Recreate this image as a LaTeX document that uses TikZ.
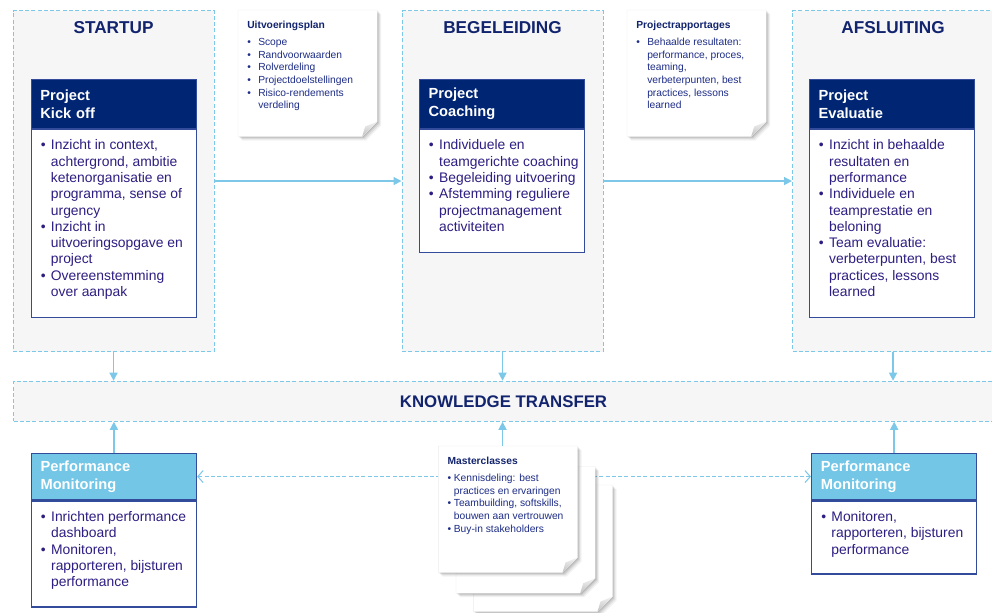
\documentclass[tikz,border=0pt]{standalone}
\usepackage{fontspec}
\setmainfont{Liberation Sans}
\usetikzlibrary{arrows.meta,calc,shadows}

\definecolor{navy}{RGB}{0,38,115}
\definecolor{titleblue}{RGB}{18,36,110}
\definecolor{bodytext}{RGB}{45,30,130}
\definecolor{boxline}{RGB}{50,75,155}
\definecolor{lineblue}{RGB}{125,200,232}
\definecolor{pmblue}{RGB}{115,198,230}
\definecolor{phasefill}{RGB}{246,246,246}
\definecolor{notetext}{RGB}{30,45,135}

\pgfdeclarelayer{background}
\pgfsetlayers{background,main}

\begin{document}
\begin{tikzpicture}[x = 0.75pt, y = -0.75pt,
  phase/.style = {draw = lineblue, fill = phasefill, line width = 0.8pt, dash pattern = on 3pt off 1.7pt,
    anchor = north west, inner sep = 0pt, minimum width = 150.75pt, minimum height = 255.75pt},
  phasetitle/.style = {text = titleblue, font = \fontsize{12.9}{15}\selectfont\bfseries},
  head/.style = {fill = navy, draw = boxline, line width = 0.8pt, text = white, anchor = north west,
    font = \fontsize{11}{13.5}\selectfont\bfseries, align = left, text width = 110pt,
    inner xsep = 7pt, inner ysep = 0pt, minimum height = 36.5pt},
  pmhead/.style = {head, fill = pmblue, minimum height = 35pt},
  body/.style = {draw = boxline, fill = white, line width = 0.8pt, anchor = north west,
    inner sep = 0pt, minimum width = 124pt},
  list/.style = {anchor = north west, text = bodytext, font = \fontsize{10.4}{12.2}\selectfont,
    inner xsep = 7.5pt, inner ysep = 7.2pt},
  note/.style = {anchor = north west, inner sep = 0pt, minimum width = 104pt, minimum height = 94.5pt},
  notelist/.style = {anchor = north west, text = notetext, font = \fontsize{7.7}{9.5}\selectfont,
    inner xsep = 6.8pt, inner ysep = 6.8pt},
  % soft shadow from a few stacked ones
  paper/.style = {fill = white, draw = black!8, line width = 0.3pt,
    drop shadow = {shadow xshift = 3pt, shadow yshift = -3pt, fill = black, opacity = 0.05},
    drop shadow = {shadow xshift = 2.2pt, shadow yshift = -2.2pt, fill = black, opacity = 0.07},
    drop shadow = {shadow xshift = 1.4pt, shadow yshift = -1.4pt, fill = black, opacity = 0.09},
    drop shadow = {shadow xshift = 0.7pt, shadow yshift = -0.7pt, fill = black, opacity = 0.1}},
  flow/.style = {draw = lineblue, line width = 1.1pt, -{Triangle[length = 6pt, width = 6pt]}},
  link/.style = {draw = lineblue, line width = 0.8pt, dash pattern = on 3pt off 1.7pt,
    {Straight Barb[length = 4pt, width = 9pt]}-{Straight Barb[length = 4pt, width = 9pt]}}]
\useasboundingbox (0, 0) rectangle (992, 612);

% three phases
\node [phase] (startup) at (12.5, 10) {};
\node [phase] (begel) at (401.5, 10) {};
\node [phase] (afsl) at (792, 10) {};
\node [phasetitle] (startupT) at ([yshift = -13.5pt]startup.north) {STARTUP};
\node [phasetitle] (begelT) at ([yshift = -13.5pt]begel.north) {BEGELEIDING};
\node [phasetitle] (afslT) at ([yshift = -13.5pt]afsl.north) {AFSLUITING};

% project boxes
\node [head] (kickH) at ($(startup.north west) + (18, 69)$) {Project\\Kick off};
\node [body, minimum height = 141.2pt] (kickB) at (kickH.south west) {};
\node [list] (kickL) at (kickB.north west) {\begin{tabular}{@{}l@{\hspace{4pt}}l@{}}
\textbullet & Inzicht in context,\\
 & achtergrond, ambitie\\
 & ketenorganisatie en\\
 & programma, sense of\\
 & urgency\\
\textbullet & Inzicht in\\
 & uitvoeringsopgave en\\
 & project\\
\textbullet & Overeenstemming\\
 & over aanpak
\end{tabular}};

\node [head] (coachH) at ($(begel.north west) + (17.2, 69)$) {Project\\Coaching};
\node [body, minimum height = 92.25pt] (coachB) at (coachH.south west) {};
\node [list] (coachL) at (coachB.north west) {\begin{tabular}{@{}l@{\hspace{4pt}}l@{}}
\textbullet & Individuele en\\
 & teamgerichte coaching\\
\textbullet & Begeleiding uitvoering\\
\textbullet & Afstemming reguliere\\
 & projectmanagement\\
 & activiteiten
\end{tabular}};

\node [head] (evalH) at ($(afsl.north west) + (16.7, 69)$) {Project\\Evaluatie};
\node [body, minimum height = 141.2pt] (evalB) at (evalH.south west) {};
\node [list] (evalL) at (evalB.north west) {\begin{tabular}{@{}l@{\hspace{4pt}}l@{}}
\textbullet & Inzicht in behaalde\\
 & resultaten en\\
 & performance\\
\textbullet & Individuele en\\
 & teamprestatie en\\
 & beloning\\
\textbullet & Team evaluatie:\\
 & verbeterpunten, best\\
 & practices, lessons\\
 & learned
\end{tabular}};

% notes
\node [note] (plan) at (238, 10) {};
\node [notelist] (planT) at (plan.north west) {\begin{tabular}{@{}l@{\hspace{5.5pt}}l@{}}
\multicolumn{2}{@{}l@{}}{\textcolor{titleblue}{\bfseries Uitvoeringsplan}}\\[3.4pt]
\textbullet & Scope\\
\textbullet & Randvoorwaarden\\
\textbullet & Rolverdeling\\
\textbullet & Projectdoelstellingen\\
\textbullet & Risico-rendements\\
 & verdeling
\end{tabular}};

\node [note] (rapp) at (627, 10) {};
\node [notelist] (rappT) at (rapp.north west) {\begin{tabular}{@{}l@{\hspace{5.5pt}}l@{}}
\multicolumn{2}{@{}l@{}}{\textcolor{titleblue}{\bfseries Projectrapportages}}\\[3.4pt]
\textbullet & Behaalde resultaten:\\
 & performance, proces,\\
 & teaming,\\
 & verbeterpunten, best\\
 & practices, lessons\\
 & learned
\end{tabular}};

\node [note] (mc3) at (473.3, 485) {};
\node [note] (mc2) at (456, 466.7) {};
\node [note] (mc) at (438.3, 446) {};
\node [notelist] (mcT) at (mc.north west) {\begin{tabular}{@{}l@{\hspace{2pt}}l@{}}
\multicolumn{2}{@{}l@{}}{\textcolor{titleblue}{\bfseries Masterclasses}}\\[3.4pt]
\textbullet & Kennisdeling: best\\
 & practices en ervaringen\\
\textbullet & Teambuilding, softskills,\\
 & bouwen aan vertrouwen\\
\textbullet & Buy-in stakeholders
\end{tabular}};

% knowledge transfer band
\node [phase, minimum width = 735pt, minimum height = 30pt, text = titleblue,
  font = \fontsize{12.6}{15}\selectfont\bfseries] (kt) at (13, 380.7) {KNOWLEDGE TRANSFER};

% performance monitoring
\node [pmhead] (pmLH) at (30.7, 452.7) {Performance\\Monitoring};
\node [body, minimum height = 79.5pt] (pmLB) at (pmLH.south west) {};
\node [list] (pmLL) at (pmLB.north west) {\begin{tabular}{@{}l@{\hspace{4pt}}l@{}}
\textbullet & Inrichten performance\\
 & dashboard\\
\textbullet & Monitoren,\\
 & rapporteren, bijsturen\\
 & performance
\end{tabular}};

\node [pmhead] (pmRH) at (811, 452.7) {Performance\\Monitoring};
\node [body, minimum height = 54.75pt] (pmRB) at (pmRH.south west) {};
\node [list] (pmRL) at (pmRB.north west) {\begin{tabular}{@{}l@{\hspace{4pt}}l@{}}
\textbullet & Monitoren,\\
 & rapporteren, bijsturen\\
 & performance
\end{tabular}};

% arrows
\draw [flow] (startup) -- (begel);
\draw [flow] (begel) -- (afsl);
\draw [flow] (startup.south) -- (startup.south |- kt.north);
\draw [flow] (begel.south) -- (begel.south |- kt.north);
\draw [flow] (afsl.south) -- (afsl.south |- kt.north);
\draw [flow] (pmLH.north) -- (pmLH.north |- kt.south);
\draw [flow] (mc.north -| begel.south) -- (begel.south |- kt.south);
\draw [flow] (pmRH.north) -- (pmRH.north |- kt.south);

\begin{pgfonlayer}{background}
\draw [link] (pmLH) -- (pmRH);
% paper with folded corner
\foreach \n in {plan, rapp, mc3, mc2, mc} {
  \filldraw [paper] (\n.north west) -- (\n.north east) -- ($(\n.south east) + (0, -15)$)
    -- ($(\n.south east) + (-15, 0)$) -- (\n.south west) -- cycle;
  \shade [top color = gray!10, bottom color = gray!50] ($(\n.south east) + (0, -15)$)
    -- ($(\n.south east) + (-15, 0)$) -- ($(\n.south east) + (-12, -10)$) -- cycle;
}
\end{pgfonlayer}
\end{tikzpicture}
\end{document}
